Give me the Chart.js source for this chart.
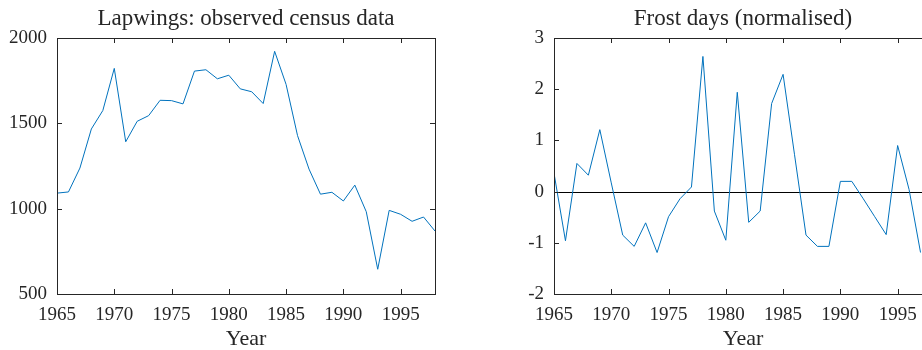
<!DOCTYPE html>
<html>
<head>
<meta charset="utf-8">
<script src="https://cdn.jsdelivr.net/npm/chart.js@4/dist/chart.umd.min.js"></script>
<style>
  html, body { margin: 0; padding: 0; background: #fff; overflow: hidden; width: 922px; height: 350px; }
  canvas { position: absolute; top: 0; }
  #lapwings { left: 0; }
  #frost { left: 497px; }
</style>
</head>
<body>
<canvas id="lapwings" width="461" height="350"></canvas>
<canvas id="frost" width="461" height="350"></canvas>
<script>
// data
var years = [1965, 1966, 1967, 1968, 1969, 1970, 1971, 1972, 1973, 1974, 1975, 1976,
    1977, 1978, 1979, 1980, 1981, 1982, 1983, 1984, 1985, 1986, 1987, 1988,
    1989, 1990, 1991, 1992, 1993, 1994, 1995, 1996, 1997, 1998];
var lapwings = [1091, 1098, 1238, 1467, 1575, 1822, 1392, 1512, 1545, 1635, 1633, 1614,
    1806, 1814, 1761, 1782, 1702, 1685, 1616, 1922, 1728, 1428, 1232, 1085,
    1096, 1045, 1138, 982, 645, 990, 967, 926, 951, 869];
var frost = [0.36, -0.96, 0.55, 0.32, 1.21, 0.17, -0.85, -1.07, -0.61, -1.19, -0.49, -0.14,
    0.09, 2.64, -0.38, -0.95, 1.94, -0.60, -0.38, 1.72, 2.29, 0.72, -0.85, -1.07,
    -1.07, 0.20, 0.20, -0.14, -0.49, -0.84, 0.90, 0.04, -1.19];
var yearTicks = [1965, 1970, 1975, 1980, 1985, 1990, 1995];
var lapTicks = [500, 1000, 1500, 2000];
var frostTicks = [-2, -1, 0, 1, 2, 3];

var ink = '#262626';
var blue = '#0072BD';
var serif = "'Liberation Serif', 'DejaVu Serif', serif";

function points(vals) {
    var out = [];
    for (var i = 0; i < vals.length; i++) out.push({ x: years[i], y: vals[i] });
    return out;
}

// box round the plot plus ticks pointing inwards, like matlab
var boxTicks = {
    id: 'boxTicks',
    beforeDatasetsDraw(chart) {
        var a = chart.chartArea, ctx = chart.ctx;
        if (chart.options.plugins.boxTicks.zeroLine) {
            var y0 = Math.round(chart.scales.y.getPixelForValue(0)) + 0.5;
            ctx.save();
            ctx.strokeStyle = '#000';
            ctx.lineWidth = 1;
            ctx.beginPath();
            ctx.moveTo(a.left, y0);
            ctx.lineTo(a.right, y0);
            ctx.stroke();
            ctx.restore();
        }
    },
    afterDraw(chart) {
        var a = chart.chartArea, ctx = chart.ctx, len = 5;
        ctx.save();
        ctx.strokeStyle = ink;
        ctx.lineWidth = 1;
        ctx.beginPath();
        chart.scales.x.ticks.forEach(function (t) {
            var x = Math.round(chart.scales.x.getPixelForValue(t.value)) + 0.5;
            ctx.moveTo(x, a.bottom); ctx.lineTo(x, a.bottom - len);
            ctx.moveTo(x, a.top); ctx.lineTo(x, a.top + len);
        });
        chart.scales.y.ticks.forEach(function (t) {
            var y = Math.round(chart.scales.y.getPixelForValue(t.value)) + 0.5;
            ctx.moveTo(a.left, y); ctx.lineTo(a.left + len, y);
            ctx.moveTo(a.right, y); ctx.lineTo(a.right - len, y);
        });
        ctx.stroke();
        ctx.strokeRect(Math.round(a.left) + 0.5, Math.round(a.top) + 0.5,
            Math.round(a.right - a.left), Math.round(a.bottom - a.top));
        ctx.restore();
    }
};

function makeChart(id, title, vals, yMin, yMax, yTicks, zeroLine) {
    return new Chart(document.getElementById(id), {
        type: 'line',
        data: {
            datasets: [{
                data: points(vals),
                borderColor: blue,
                borderWidth: 1,
                pointRadius: 0,
                tension: 0,
                fill: false
            }]
        },
        options: {
            responsive: false,
            animation: false,
            devicePixelRatio: 1,
            layout: { padding: { left: 0, right: 26, top: 0, bottom: 0 } },
            plugins: {
                legend: { display: false },
                tooltip: { enabled: false },
                title: {
                    display: true,
                    text: title,
                    fullSize: false,
                    color: ink,
                    font: { family: serif, size: 23, weight: 'normal', lineHeight: 1.2 },
                    padding: { top: 5, bottom: 5.4 }
                },
                boxTicks: { zeroLine: zeroLine }
            },
            scales: {
                x: {
                    type: 'linear',
                    min: 1965,
                    max: 1998,
                    afterBuildTicks: function (s) { s.ticks = yearTicks.map(function (v) { return { value: v }; }); },
                    afterFit: function (s) { s.height = 56; },
                    grid: { display: false, drawTicks: false },
                    border: { display: false },
                    ticks: {
                        color: ink,
                        padding: 10,
                        maxRotation: 0,
                        font: { family: serif, size: 19 },
                        callback: function (v) { return String(v); }
                    },
                    title: {
                        display: true,
                        text: 'Year',
                        color: ink,
                        font: { family: serif, size: 22, lineHeight: 1.0 },
                        padding: { top: 0, bottom: 0 }
                    }
                },
                y: {
                    min: yMin,
                    max: yMax,
                    afterBuildTicks: function (s) { s.ticks = yTicks.map(function (v) { return { value: v }; }); },
                    afterFit: function (s) { s.width = 57; },
                    grid: { display: false, drawTicks: false },
                    border: { display: false },
                    ticks: {
                        color: ink,
                        padding: 10,
                        font: { family: serif, size: 19 },
                        callback: function (v) { return String(v); }
                    }
                }
            }
        },
        plugins: [boxTicks]
    });
}

makeChart('lapwings', 'Lapwings: observed census data', lapwings, 500, 2000, lapTicks, false);
makeChart('frost', 'Frost days (normalised)', frost, -2, 3, frostTicks, true);
</script>
</body>
</html>
